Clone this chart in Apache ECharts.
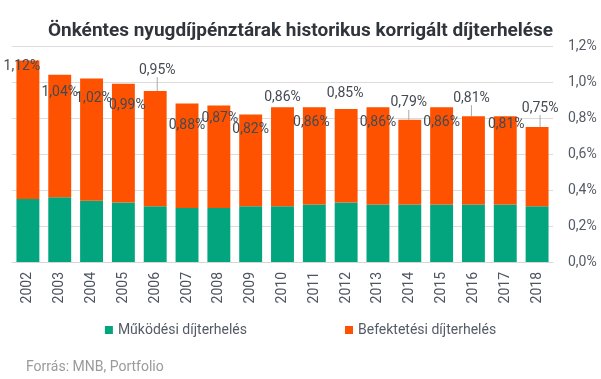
<!DOCTYPE html>
<html>
<head>
<meta charset="utf-8">
<script src="https://cdn.jsdelivr.net/npm/echarts@6/dist/echarts.min.js"></script>
<style>html,body{margin:0;padding:0;background:#fff}#c{width:601px;height:379px}</style>
</head>
<body>
<div id="c"></div>
<script>
const years = ['2002','2003','2004','2005','2006','2007','2008','2009','2010','2011','2012','2013','2014','2015','2016','2017','2018'];
const totals = [1.12,1.04,1.02,0.99,0.95,0.88,0.87,0.82,0.86,0.86,0.85,0.86,0.79,0.86,0.81,0.81,0.75];
const operating = [0.35,0.36,0.34,0.33,0.31,0.30,0.30,0.31,0.31,0.32,0.33,0.32,0.32,0.32,0.32,0.32,0.31];
const investment = totals.map((t, i) => +(t - operating[i]).toFixed(2));
const yTicks = [0, 0.2, 0.4, 0.6, 0.8, 1.0, 1.2];
// label offsets relative to bar top centre (style only)
const labelDx = [-6,0,2,4,2,0,1,0,0,-3,-1,0,-1,0,-2,1,3];
const labelDy = [6,18,20,22,-21,22,13,15,-10,15,-16,15,-17,15,-18,8,-19];
const leader = [false,false,false,false,true,false,false,false,false,false,false,false,true,false,true,false,true];

const fmt = v => v.toFixed(2).replace('.', ',') + '%';
const chart = echarts.init(document.getElementById('c'));
chart.setOption({
  animation: false,
  textStyle: { fontFamily: 'Roboto' },
  title: [
    { text: 'Önkéntes nyugdíjpénztárak historikus korrigált díjterhelése', left: 'center', top: 17,
      textStyle: { fontFamily: 'Roboto', fontWeight: 'bold', fontSize: 19, color: '#30343b' } },
    { text: 'Forrás: MNB, Portfolio', left: 21, top: 355,
      textStyle: { fontFamily: 'Roboto', fontWeight: 'normal', fontSize: 14, color: '#9a9a9a' } }
  ],
  legend: {
    top: 318, left: 'center', itemWidth: 8, itemHeight: 8, icon: 'rect', itemGap: 98,
    textStyle: { fontFamily: 'Roboto', fontSize: 14, color: '#555b66' },
    data: ['Működési díjterhelés', 'Befektetési díjterhelés']
  },
  grid: { left: 12, right: 48, top: 46, bottom: 117, containLabel: false },
  xAxis: {
    type: 'category', data: years,
    axisLine: { lineStyle: { color: '#d6d6d6' } },
    axisTick: { show: false },
    axisLabel: { rotate: 90, fontSize: 14, color: '#4e5360', margin: 10 }
  },
  yAxis: {
    type: 'value', position: 'right', min: 0, max: 1.2, interval: 0.2,
    axisLine: { show: false }, axisTick: { show: false },
    axisLabel: { fontSize: 14, color: '#555b66', margin: 15,
      formatter: v => { const t = yTicks.find(x => Math.abs(x - v) < 1e-9); return (t !== undefined ? t : v).toFixed(1).replace('.', ',') + '%'; } },
    splitLine: { lineStyle: { color: '#dcdcdc' } }
  },
  series: [
    { name: 'Működési díjterhelés', type: 'bar', stack: 'a', data: operating, barCategoryGap: '28%',
      itemStyle: { color: '#03a57f' } },
    { name: 'Befektetési díjterhelés', type: 'bar', stack: 'a', barCategoryGap: '28%',
      itemStyle: { color: '#fe5200' },
      data: investment.map((v, i) => ({
        value: v,
        labelLine: { show: leader[i], lineStyle: { color: '#aaaaaa', width: 1 }, length2: 0 }
      })),
      label: { show: true, position: 'top', fontSize: 14, color: '#444a52',
        formatter: p => fmt(totals[p.dataIndex]) },
      labelLine: { show: false },
      labelLayout: p => ({
        x: p.rect.x + p.rect.width / 2 + labelDx[p.dataIndex],
        y: p.rect.y + labelDy[p.dataIndex],
        align: 'center', verticalAlign: 'middle'
      })
    }
  ]
});
</script>
</body>
</html>
